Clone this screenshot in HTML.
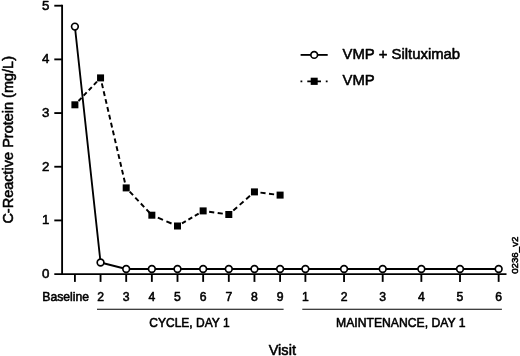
<!DOCTYPE html>
<html><head><meta charset="utf-8"><title>Chart</title>
<style>html,body{margin:0;padding:0;background:#fff}body{width:520px;height:356px;overflow:hidden;font-family:"Liberation Sans",sans-serif}</style>
</head><body>
<svg width="520" height="356" viewBox="0 0 520 356" style="display:block;will-change:transform;filter:grayscale(1)" font-family="Liberation Sans, sans-serif" fill="#000">
<style>text{stroke:#000;stroke-width:.55px;stroke-linejoin:round}</style>
<rect width="520" height="356" fill="#fff"/>
<g stroke="#000" stroke-width="1.85" fill="none" stroke-linecap="butt">
<path d="M62.1 4.78V274.1"/>
<path d="M54.3 274.1H506.5"/>
<path d="M54.3 220.42H62.1"/>
<path d="M54.3 166.74H62.1"/>
<path d="M54.3 113.06H62.1"/>
<path d="M54.3 59.38H62.1"/>
<path d="M54.3 5.7H62.1"/>
<path d="M74.90 274.1V281.9"/>
<path d="M100.55 274.1V281.9"/>
<path d="M126.20 274.1V281.9"/>
<path d="M151.85 274.1V281.9"/>
<path d="M177.50 274.1V281.9"/>
<path d="M203.15 274.1V281.9"/>
<path d="M228.80 274.1V281.9"/>
<path d="M254.45 274.1V281.9"/>
<path d="M280.10 274.1V281.9"/>
<path d="M305.40 274.1V281.9"/>
<path d="M344.05 274.1V281.9"/>
<path d="M382.70 274.1V281.9"/>
<path d="M421.35 274.1V281.9"/>
<path d="M460.00 274.1V281.9"/>
<path d="M498.65 274.1V281.9"/>
</g>
<g stroke="#000" stroke-width="1.15" fill="none"><path d="M97 309.25H283.6"/><path d="M302.3 309.25H501.9"/></g>
<text x="49.4" y="277.90" font-size="13.3" text-anchor="end">0</text>
<text x="49.4" y="224.22" font-size="13.3" text-anchor="end">1</text>
<text x="49.4" y="170.54" font-size="13.3" text-anchor="end">2</text>
<text x="49.4" y="116.86" font-size="13.3" text-anchor="end">3</text>
<text x="49.4" y="63.18" font-size="13.3" text-anchor="end">4</text>
<text x="49.4" y="9.50" font-size="13.3" text-anchor="end">5</text>
<text x="42.3" y="300.6" font-size="12.2">Baseline</text>
<text x="100.55" y="300.6" font-size="12.2" text-anchor="middle">2</text>
<text x="126.20" y="300.6" font-size="12.2" text-anchor="middle">3</text>
<text x="151.85" y="300.6" font-size="12.2" text-anchor="middle">4</text>
<text x="177.50" y="300.6" font-size="12.2" text-anchor="middle">5</text>
<text x="203.15" y="300.6" font-size="12.2" text-anchor="middle">6</text>
<text x="228.80" y="300.6" font-size="12.2" text-anchor="middle">7</text>
<text x="254.45" y="300.6" font-size="12.2" text-anchor="middle">8</text>
<text x="280.10" y="300.6" font-size="12.2" text-anchor="middle">9</text>
<text x="305.40" y="300.6" font-size="12.2" text-anchor="middle">1</text>
<text x="344.05" y="300.6" font-size="12.2" text-anchor="middle">2</text>
<text x="382.70" y="300.6" font-size="12.2" text-anchor="middle">3</text>
<text x="421.35" y="300.6" font-size="12.2" text-anchor="middle">4</text>
<text x="460.00" y="300.6" font-size="12.2" text-anchor="middle">5</text>
<text x="498.65" y="300.6" font-size="12.2" text-anchor="middle">6</text>
<text x="189.5" y="326.7" font-size="12" text-anchor="middle">CYCLE, DAY 1</text>
<text x="400.8" y="326.7" font-size="12.2" text-anchor="middle">MAINTENANCE, DAY 1</text>
<text x="282.3" y="355.4" font-size="14.6" text-anchor="middle">Visit</text>
<text transform="translate(12.5 223.6) rotate(-90)" font-size="14.5">C-Reactive Protein (mg/L)</text>
<text transform="translate(518.2 273.8) rotate(-90)" font-size="9.7">0236_v2</text>
<g fill="none" stroke="#000" stroke-width="1.95">
<path d="M74.90 104.8L100.55 77.9" stroke-dasharray="4.46 2.97" stroke-dashoffset="2.23"/>
<path d="M100.55 77.9L126.20 187.9" stroke-dasharray="4.84 3.23" stroke-dashoffset="2.42"/>
<path d="M126.20 187.9L151.85 215.2" stroke-dasharray="4.90 3.25" stroke-dashoffset="3.05"/>
<path d="M151.85 215.2L177.50 226.0" stroke-dasharray="5.57 3.71" stroke-dashoffset="2.78"/>
<path d="M177.50 226.0L203.15 210.9" stroke-dasharray="4.46 2.98" stroke-dashoffset="2.23"/>
<path d="M203.15 210.9L228.80 214.5" stroke-dasharray="5.18 3.45" stroke-dashoffset="2.59"/>
<path d="M228.80 214.5L254.45 191.9" stroke-dasharray="5.13 3.42" stroke-dashoffset="2.56"/>
<path d="M254.45 191.9L280.10 195.1" stroke-dasharray="5.17 3.45" stroke-dashoffset="2.58"/>
</g>
<rect x="71.40" y="101.30" width="7" height="7"/>
<rect x="97.05" y="74.40" width="7" height="7"/>
<rect x="122.70" y="184.40" width="7" height="7"/>
<rect x="148.35" y="211.70" width="7" height="7"/>
<rect x="174.00" y="222.50" width="7" height="7"/>
<rect x="199.65" y="207.40" width="7" height="7"/>
<rect x="225.30" y="211.00" width="7" height="7"/>
<rect x="250.95" y="188.40" width="7" height="7"/>
<rect x="276.60" y="191.60" width="7" height="7"/>
<polyline points="74.90,26.6 100.55,262.5 126.20,269.0 151.85,269.0 177.50,269.0 203.15,269.0 228.80,269.0 254.45,269.0 280.10,269.0 305.40,269.0 344.05,269.0 382.70,269.0 421.35,269.0 460.00,269.0 498.65,269.0" fill="none" stroke="#000" stroke-width="1.85" stroke-linejoin="round"/>
<circle cx="74.90" cy="26.6" r="3.35" fill="#fff" stroke="#000" stroke-width="1.65"/>
<circle cx="100.55" cy="262.5" r="3.35" fill="#fff" stroke="#000" stroke-width="1.65"/>
<circle cx="126.20" cy="269.0" r="3.35" fill="#fff" stroke="#000" stroke-width="1.65"/>
<circle cx="151.85" cy="269.0" r="3.35" fill="#fff" stroke="#000" stroke-width="1.65"/>
<circle cx="177.50" cy="269.0" r="3.35" fill="#fff" stroke="#000" stroke-width="1.65"/>
<circle cx="203.15" cy="269.0" r="3.35" fill="#fff" stroke="#000" stroke-width="1.65"/>
<circle cx="228.80" cy="269.0" r="3.35" fill="#fff" stroke="#000" stroke-width="1.65"/>
<circle cx="254.45" cy="269.0" r="3.35" fill="#fff" stroke="#000" stroke-width="1.65"/>
<circle cx="280.10" cy="269.0" r="3.35" fill="#fff" stroke="#000" stroke-width="1.65"/>
<circle cx="305.40" cy="269.0" r="3.35" fill="#fff" stroke="#000" stroke-width="1.65"/>
<circle cx="344.05" cy="269.0" r="3.35" fill="#fff" stroke="#000" stroke-width="1.65"/>
<circle cx="382.70" cy="269.0" r="3.35" fill="#fff" stroke="#000" stroke-width="1.65"/>
<circle cx="421.35" cy="269.0" r="3.35" fill="#fff" stroke="#000" stroke-width="1.65"/>
<circle cx="460.00" cy="269.0" r="3.35" fill="#fff" stroke="#000" stroke-width="1.65"/>
<circle cx="498.65" cy="269.0" r="3.35" fill="#fff" stroke="#000" stroke-width="1.65"/>
<path d="M300.6 54.9H327.7" stroke="#000" stroke-width="1.85"/>
<circle cx="314.2" cy="54.9" r="3.35" fill="#fff" stroke="#000" stroke-width="1.65"/>
<path d="M300.5 81.3H302.3M307.3 81.3H321M325.8 81.3H327.6" stroke="#000" stroke-width="1.85"/>
<rect x="310.7" y="77.7" width="7" height="7.2"/>
<text x="342.5" y="58.7" font-size="14.9">VMP + Siltuximab</text>
<text x="342.5" y="84.9" font-size="14.9">VMP</text>
</svg>
</body></html>
